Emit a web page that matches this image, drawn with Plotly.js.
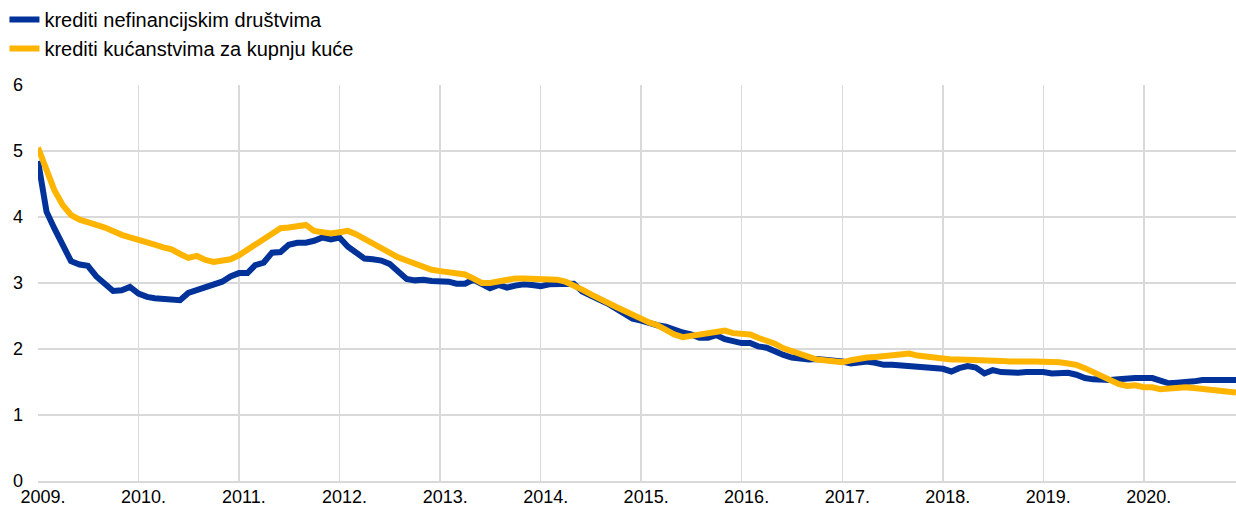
<!DOCTYPE html>
<html>
<head>
<meta charset="utf-8">
<script src="https://cdn.plot.ly/plotly-3.0.1.min.js"></script>
<style>
  html, body { margin: 0; padding: 0; background: #ffffff; }
  #chart { width: 1236px; height: 508px; }
</style>
</head>
<body>
<div id="chart"></div>
<script>
// Categories
const years = [2009, 2010, 2011, 2012, 2013, 2014, 2015, 2016, 2017, 2018, 2019, 2020];
const monthCodes = ['01','02','03','04','05','06','07','08','09','10','11','12'];
const tickLabels = ['2009.', '2010.', '2011.', '2012.', '2013.', '2014.', '2015.', '2016.', '2017.', '2018.', '2019.', '2020.'];
const seriesNames = ['krediti nefinancijskim društvima', 'krediti kućanstvima za kupnju kuće'];

// Series: loans to non-financial corporations (monthly, Jan 2009 - Dec 2020)
const nfc2009 = [4.85, 4.08, 3.83, 3.58, 3.33, 3.28, 3.26, 3.10, 3.00, 2.88, 2.89, 2.94];
const nfc2010 = [2.84, 2.79, 2.77, 2.76, 2.76, 2.74, 2.85, 2.89, 2.94, 2.97, 3.02, 3.10];
const nfc2011 = [3.15, 3.15, 3.27, 3.31, 3.46, 3.47, 3.58, 3.61, 3.61, 3.64, 3.69, 3.66];
const nfc2012 = [3.69, 3.55, 3.47, 3.37, 3.36, 3.34, 3.29, 3.17, 3.06, 3.04, 3.05, 3.03];
const nfc2013 = [3.03, 3.02, 2.99, 2.99, 3.05, 2.99, 2.92, 2.97, 2.93, 2.96, 2.98, 2.97];
const nfc2014 = [2.95, 2.98, 2.98, 3.00, 2.99, 2.87, 2.80, 2.75, 2.69, 2.62, 2.54, 2.46];
const nfc2015 = [2.43, 2.39, 2.36, 2.34, 2.29, 2.25, 2.22, 2.17, 2.17, 2.21, 2.15, 2.12];
const nfc2016 = [2.09, 2.09, 2.04, 2.02, 1.96, 1.91, 1.87, 1.85, 1.84, 1.85, 1.84, 1.83];
const nfc2017 = [1.81, 1.78, 1.79, 1.81, 1.79, 1.76, 1.76, 1.75, 1.75, 1.73, 1.72, 1.72];
const nfc2018 = [1.70, 1.66, 1.71, 1.74, 1.72, 1.63, 1.68, 1.65, 1.64, 1.64, 1.65, 1.66];
const nfc2019 = [1.65, 1.63, 1.64, 1.64, 1.61, 1.56, 1.54, 1.53, 1.53, 1.54, 1.56, 1.56];
const nfc2020 = [1.56, 1.56, 1.52, 1.48, 1.49, 1.49, 1.51, 1.53, 1.53, 1.53, 1.55, 1.53];

// Series: loans to households for house purchase
const hh2009 = [5.05, 4.71, 4.41, 4.18, 4.03, 3.96, 3.93, 3.88, 3.84, 3.78, 3.73, 3.69];
const hh2010 = [3.66, 3.63, 3.58, 3.54, 3.51, 3.44, 3.38, 3.41, 3.35, 3.32, 3.33, 3.36];
const hh2011 = [3.42, 3.50, 3.58, 3.65, 3.75, 3.83, 3.84, 3.86, 3.88, 3.79, 3.76, 3.75];
const hh2012 = [3.77, 3.79, 3.74, 3.67, 3.61, 3.54, 3.45, 3.39, 3.34, 3.29, 3.24, 3.20];
const hh2013 = [3.18, 3.17, 3.16, 3.13, 3.07, 3.00, 3.00, 3.03, 3.06, 3.07, 3.07, 3.07];
const hh2014 = [3.05, 3.06, 3.05, 3.02, 2.97, 2.90, 2.83, 2.76, 2.70, 2.64, 2.58, 2.53];
const hh2015 = [2.46, 2.40, 2.36, 2.29, 2.22, 2.18, 2.20, 2.24, 2.26, 2.26, 2.28, 2.24];
const hh2016 = [2.24, 2.22, 2.17, 2.13, 2.08, 2.01, 1.96, 1.92, 1.88, 1.84, 1.82, 1.80];
const hh2017 = [1.80, 1.83, 1.86, 1.87, 1.88, 1.89, 1.89, 1.91, 1.93, 1.90, 1.88, 1.87];
const hh2018 = [1.84, 1.84, 1.84, 1.84, 1.83, 1.82, 1.83, 1.82, 1.81, 1.80, 1.81, 1.81];
const hh2019 = [1.81, 1.82, 1.80, 1.78, 1.76, 1.71, 1.65, 1.59, 1.53, 1.47, 1.44, 1.45];
const hh2020 = [1.42, 1.42, 1.39, 1.40, 1.43, 1.42, 1.41, 1.40, 1.39, 1.37, 1.36, 1.34];

const nfc = [].concat(nfc2009, nfc2010, nfc2011, nfc2012, nfc2013, nfc2014,
                      nfc2015, nfc2016, nfc2017, nfc2018, nfc2019, nfc2020);
const hh = [].concat(hh2009, hh2010, hh2011, hh2012, hh2013, hh2014,
                     hh2015, hh2016, hh2017, hh2018, hh2019, hh2020);

const dates = [];
years.forEach(y => monthCodes.forEach(m => dates.push(y + '-' + m + '-01')));
const tickVals = years.map(y => y + '-01-01');

const FONT = 'Liberation Sans, Arial, sans-serif';

const traces = [
  { x: dates, y: nfc, name: seriesNames[0], type: 'scatter', mode: 'lines',
    line: { color: '#003299', width: 6 } },
  { x: dates, y: hh, name: seriesNames[1], type: 'scatter', mode: 'lines',
    line: { color: '#FFB400', width: 6 } }
];

const layout = {
  width: 1236, height: 508,
  margin: { l: 38, r: 0, t: 85, b: 27 },
  paper_bgcolor: '#ffffff', plot_bgcolor: '#ffffff',
  font: { family: FONT, size: 18, color: '#000000' },
  showlegend: true,
  legend: {
    x: -0.028, xanchor: 'left', y: 1.215, yanchor: 'top',
    orientation: 'v', bgcolor: 'rgba(0,0,0,0)',
    font: { family: FONT, size: 20, color: '#000000' },
    tracegroupgap: 0
  },
  xaxis: {
    type: 'date',
    range: ['2009-01-01', '2020-12-01'],
    tickvals: tickVals, ticktext: tickLabels,
    showgrid: true, gridcolor: '#d9d9d9', gridwidth: 1.5,
    showline: true, linecolor: '#d9d9d9', linewidth: 2,
    ticks: '', zeroline: false,
    ticklabelshift: 5,
    ticklabelstandoff: -2,
    tickfont: { family: FONT, size: 18, color: '#000000' }
  },
  yaxis: {
    range: [0, 6],
    tickvals: [0, 1, 2, 3, 4, 5, 6],
    showgrid: true, gridcolor: '#d9d9d9', gridwidth: 1.5,
    zeroline: false, showline: false, ticks: '',
    ticklabelstandoff: 14,
    tickfont: { family: FONT, size: 18, color: '#000000' }
  }
};

Plotly.newPlot('chart', traces, layout, { displayModeBar: false, staticPlot: true });
</script>
</body>
</html>
